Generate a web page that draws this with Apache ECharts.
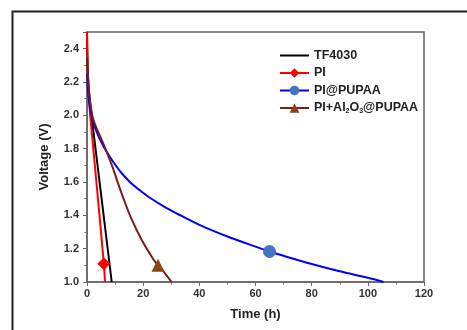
<!DOCTYPE html>
<html><head><meta charset="utf-8">
<script src="https://cdn.jsdelivr.net/npm/echarts@6/dist/echarts.min.js"></script>
<style>html,body{margin:0;padding:0;background:#fff}#c{width:467px;height:330px}</style>
</head><body><div id="c"></div>
<script>
const seriesNames = ['TF4030', 'PI', 'PI@PUPAA', 'PI+Al2O3@PUPAA'];
const tf4030 = [[0,2.5],[0.15,2.35],[0.4,2.22],[0.8,2.12],[1.3,2.04],[1.8,1.97],[5.2,1.5],[8.8,1.0]];
const pi = [[0,2.5],[0.12,2.35],[0.35,2.2],[0.7,2.1],[1.3,1.97],[3.9,1.5],[6.4,1.0]];
const piMarker = [6.0, 1.11];
const pupaa = [[0,2.25],[0.5,2.12],[1,2.05],[2,1.97],[3,1.92],[4.5,1.86],[6,1.81],[8,1.755],[10,1.705],[12,1.66],[15,1.605],[18.8,1.55],[22,1.51],[27,1.457],[33,1.402],[40,1.343],[50,1.273],[60,1.212],[70,1.157],[80,1.108],[90,1.064],[100,1.025],[105.6,1.0]];
const pupaaMarker = [65, 1.183];
const al2o3 = [[0,2.35],[0.5,2.19],[1,2.1],[2,1.99],[3,1.94],[4.5,1.88],[5.7,1.835],[7.5,1.76],[9.3,1.68],[11,1.595],[12.9,1.505],[15.8,1.38],[19.4,1.255],[23.5,1.14],[27.5,1.058],[30.1,1.0]];
const al2o3Marker = [25.3, 1.1];
const xTicks = {min: 0, max: 120, interval: 20};
const yTicks = {min: 1.0, max: 2.5, interval: 0.2};

function withMarker(arr, m, sym, size) {
  const out = arr.map(p => ({value: p, symbolSize: 0}));
  let idx = out.findIndex(o => o.value[0] > m[0]);
  out.splice(idx, 0, {value: m, symbol: sym, symbolSize: size});
  return out;
}

const chart = echarts.init(document.getElementById('c'));
const font = 'Liberation Sans, Arial, sans-serif';
chart.setOption({
  animation: false,
  graphic: [{type: 'rect', left: 10, top: 9, shape: {width: 500, height: 360}, style: {fill: 'none', stroke: '#222', lineWidth: 2}}],
  grid: {left: 87, right: 43, top: 32, bottom: 48, show: true, borderColor: '#666', borderWidth: 1.5},
  legend: {
    left: 279, top: 49, padding: 0, orient: 'vertical', itemWidth: 29, itemHeight: 12, itemGap: 4.5,
    data: [{name: 'TF4030', itemStyle: {opacity: 0}}, 'PI', 'PI@PUPAA', 'PI+Al2O3@PUPAA'],
    textStyle: {fontFamily: font, fontWeight: 'bold', fontSize: 12.5, color: '#222',
      rich: {sub: {fontFamily: font, fontWeight: 'bold', fontSize: 7, color: '#222', verticalAlign: 'bottom', padding: [6,0,0,0]}}},
    formatter: n => n === 'PI+Al2O3@PUPAA' ? 'PI+Al{sub|2}O{sub|3}@PUPAA' : n
  },
  xAxis: {
    type: 'value', min: xTicks.min, max: xTicks.max, interval: xTicks.interval,
    name: 'Time (h)', nameLocation: 'middle', nameGap: 26,
    nameTextStyle: {fontFamily: font, fontWeight: 'bold', fontSize: 13, color: '#222'},
    axisLine: {lineStyle: {color: '#666', width: 1.5}},
    axisTick: {inside: false, length: 4, lineStyle: {color: '#666'}},
    minorTick: {show: true, splitNumber: 2, length: 2.5, lineStyle: {color: '#666'}},
    splitLine: {show: false},
    axisLabel: {fontFamily: font, fontWeight: 'bold', fontSize: 11, color: '#333', margin: 6}
  },
  yAxis: {
    type: 'value', min: yTicks.min, max: yTicks.max, interval: yTicks.interval,
    name: 'Voltage (V)', nameLocation: 'middle', nameGap: 36, nameRotate: 90,
    nameTextStyle: {fontFamily: font, fontWeight: 'bold', fontSize: 13, color: '#222'},
    axisLine: {lineStyle: {color: '#666', width: 1.5}},
    axisTick: {inside: false, length: 4, lineStyle: {color: '#666'}},
    minorTick: {show: true, splitNumber: 2, length: 2.5, lineStyle: {color: '#666'}},
    splitLine: {show: false},
    axisLabel: {fontFamily: font, fontWeight: 'bold', fontSize: 11, color: '#333', margin: 8, showMaxLabel: false,
      formatter: v => v.toFixed(1)}
  },
  series: [
    {name: 'TF4030', type: 'line', data: tf4030, symbol: 'none', smooth: 0.25, lineStyle: {color: '#000', width: 2}, itemStyle: {color: '#000'}},
    {name: 'PI', type: 'line', data: withMarker(pi, piMarker, 'diamond', 13), symbol: 'diamond', showSymbol: true, smooth: 0.25,
      lineStyle: {color: '#ff0000', width: 2}, itemStyle: {color: '#ff0000'}},
    {name: 'PI@PUPAA', type: 'line', data: withMarker(pupaa, pupaaMarker, 'circle', 13), symbol: 'circle', showSymbol: true, smooth: 0.3,
      lineStyle: {color: '#0000ff', width: 2}, itemStyle: {color: '#4472c4'}},
    {name: 'PI+Al2O3@PUPAA', type: 'line', data: withMarker(al2o3, al2o3Marker, 'triangle', 13), symbol: 'triangle', showSymbol: true, smooth: 0.3,
      lineStyle: {color: '#7a1c1c', width: 2}, itemStyle: {color: '#8b4513'}}
  ]
});
</script></body></html>
